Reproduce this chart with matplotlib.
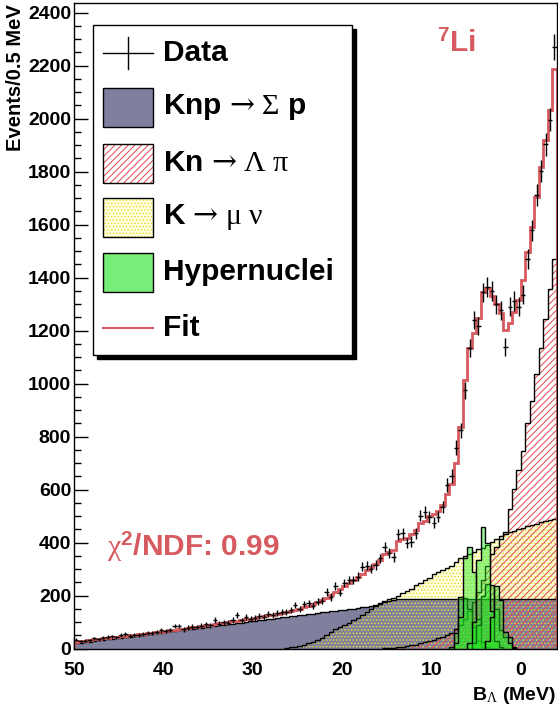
import numpy as np
import matplotlib
matplotlib.use('Agg')
import matplotlib.pyplot as plt
from matplotlib.patches import Rectangle
from matplotlib.lines import Line2D
from matplotlib.ticker import MultipleLocator

plt.rcParams['font.family'] = ['Liberation Sans', 'DejaVu Sans']
plt.rcParams['mathtext.fontset'] = 'custom'
plt.rcParams['mathtext.rm'] = 'Liberation Serif'
plt.rcParams['mathtext.it'] = 'Liberation Serif:italic'
plt.rcParams['mathtext.bf'] = 'Liberation Sans:bold'
plt.rcParams['mathtext.sf'] = 'DejaVu Serif'
plt.rcParams['hatch.linewidth'] = 0.7

# ---------------- data ----------------
B_MAX, B_MIN, BIN = 50.0, -4.0, 0.5

data = [33, 27, 29, 31, 38, 34, 41, 43, 46, 42,
        50, 54, 49, 51, 52, 55, 60, 57, 61, 68,
        66, 70, 85, 85, 72, 78, 82, 81, 86, 92,
        88, 107, 94, 99, 98, 108, 128, 106, 120, 112,
        116, 122, 120, 130, 127, 133, 139, 137, 146, 164,
        150, 168, 170, 162, 177, 180, 214, 195, 237, 211,
        248, 258, 258, 271, 309, 313, 302, 315, 340, 384,
        359, 346, 432, 435, 399, 403, 435, 502, 514, 497,
        475, 498, 535, 617, 652, 758, 824, 975, 1133, 1240,
        1218, 1345, 1365, 1350, 1300, 1277, 1139, 1290, 1312, 1290,
        1336, 1470, 1579, 1711, 1803, 1903, 1997, 2271]

fit = [26, 28, 30, 32, 34, 36, 38, 40, 42, 44,
       46, 48, 50, 52, 54, 56, 58, 60, 62, 64,
       67, 69, 71, 73, 75, 78, 80, 82, 85, 87,
       90, 92, 95, 98, 100, 103, 105, 108, 110, 113,
       116, 119, 122, 125, 128, 131, 135, 139, 143, 147,
       151, 156, 161, 168, 176, 184, 192, 201, 212, 224,
       236, 247, 258, 270, 283, 295, 306, 318, 335, 355,
       365, 373, 405, 412, 418, 432, 448, 472, 482, 500,
       508, 520, 540, 585, 620, 700, 837, 1013, 1133, 1190,
       1246, 1346, 1360, 1332, 1300, 1265, 1202, 1228, 1270, 1315,
       1390, 1495, 1592, 1704, 1818, 1919, 2032, 2187]

knp = [20, 22, 24, 26, 28, 31, 33, 35, 37, 39,
       41, 43, 45, 48, 50, 52, 54, 56, 58, 60,
       62, 65, 67, 69, 71, 73, 75, 77, 79, 81,
       84, 86, 88, 90, 92, 94, 96, 98, 101, 103,
       105, 107, 109, 111, 113, 115, 118, 120, 122, 124,
       126, 128, 130, 132, 134, 137, 139, 141, 143, 145,
       147, 149, 151, 154, 156, 158, 160, 163, 168, 174,
       179, 183, 186, 187, 188, 188, 188, 188, 188, 188,
       188, 188, 188, 188, 188, 188, 188, 188, 188, 188,
       188, 188, 188, 188, 188, 188, 188, 188, 188, 188,
       188, 188, 188, 188, 188, 188, 188, 188]

kmunu_start = 26.5
kmunu = [2, 4, 7, 10, 15, 20, 25, 31, 40, 50,
         61, 72, 80, 88, 97, 106, 116, 126, 136, 149,
         162, 170, 178, 185, 189, 198, 208, 217, 226, 238,
         249, 258, 268, 280, 290, 297, 305, 313, 326, 340,
         350, 358, 366, 374, 381, 392, 403, 414, 426, 432,
         438, 444, 450, 456, 461, 466, 471, 476, 481, 486, 490]

knlp_start = 15.5
knlp = [1, 2, 3, 5, 7, 9, 12, 15, 19, 23,
        28, 33, 38, 45, 52, 60, 72, 88, 110, 140,
        175, 215, 260, 310, 355, 385, 415, 440, 528, 603,
        672, 747, 850, 935, 1037, 1136, 1245, 1358, 1472]

hyp_starts = [8.0, 7.5, 5.5, 6.0, 4.0]
hyp = [[7, 57, 195, 190, 150, 80, 30, 5],
       [20, 120, 340, 384, 290, 110, 25, 5],
       [20, 90, 200, 245, 240, 150, 70, 45, 45, 7],
       [20, 100, 334, 460, 400, 140, 30, 5],
       [30, 120, 236, 183, 63, 20, 3]]

labels = [r'Data', r'Knp $\mathsf{→}\mathrm{\ Σ}$ p',
          r'Kn $\mathsf{→}\mathrm{\ Λ\ π}$',
          r'K $\mathsf{→}\mathrm{\ μ\ ν}$', 'Hypernuclei', 'Fit']

# ---------------- styling ----------------
RED = '#d65a5f'
GRAY = '#80809e'
PALE_Y = '#ffffe0'
DOT_Y = '#e6dc3c'
HATCH_R = '#e0484f'
GREEN_FC = (0.13, 0.93, 0.13, 0.45)

W, H = 558, 713
fig = plt.figure(figsize=(W / 100, H / 100), dpi=100)
L, R, T, Bt = 74, 556.7, 2.7, 648.5
ax = fig.add_axes([L / W, 1 - Bt / H, (R - L) / W, (Bt - T) / H])


def edges_from(start, n):
    return start - BIN * np.arange(n + 1)


edges = edges_from(B_MAX, len(data))
centers = edges[:-1] - BIN / 2
e_kmunu = edges_from(kmunu_start, len(kmunu))
e_knlp = edges_from(knlp_start, len(knlp))

ax.stairs(kmunu, e_kmunu, fill=True, facecolor=PALE_Y, edgecolor='none', zorder=1)
ax.stairs(knp, edges, fill=True, facecolor=GRAY, edgecolor='none', zorder=1.5)
ax.stairs(kmunu, e_kmunu, fill=True, facecolor='none', edgecolor=DOT_Y,
          hatch='.....', linewidth=0, zorder=2)
ax.stairs(knlp, e_knlp, fill=True, facecolor='none', edgecolor=HATCH_R,
          hatch='/////', linewidth=0, zorder=2.2)
ax.stairs(knp, edges, color='black', linewidth=1, baseline=None, zorder=2.5)
ax.stairs(kmunu, e_kmunu, color='black', linewidth=1, baseline=None, zorder=2.5)
ax.stairs(knlp, e_knlp, color='black', linewidth=1, baseline=None, zorder=2.5)

for st, g in zip(hyp_starts, hyp):
    ax.stairs(g, edges_from(st, len(g)), fill=True, facecolor=GREEN_FC,
              edgecolor='black', linewidth=1, zorder=3)

ax.stairs(fit, edges, color=RED, linewidth=2, zorder=4)
ax.errorbar(centers, data, yerr=np.sqrt(data), xerr=BIN / 2, fmt='none',
            ecolor='black', elinewidth=1, capsize=0, zorder=5)

ax.set_xlim(B_MAX, B_MIN)
ax.set_ylim(0, 2438)
ax.set_yticks(np.arange(0, 2401, 200))
ax.yaxis.set_minor_locator(MultipleLocator(50))
ax.set_xticks([50, 40, 30, 20, 10, 0])
ax.tick_params(axis='y', which='major', direction='in', length=10, width=1,
               labelsize=14, pad=2, right=False)
ax.tick_params(axis='y', which='minor', direction='in', length=5, width=1, right=False)
ax.tick_params(axis='x', which='major', direction='in', length=8, width=1,
               labelsize=14, pad=10, top=False)
for lbl in ax.get_xticklabels() + ax.get_yticklabels():
    lbl.set_fontweight('bold')
ax.set_axisbelow(True)
for s in ax.spines.values():
    s.set_linewidth(1)
    s.set_zorder(6)


def fx(px):
    return px / W


def fy(py):
    return 1 - py / H


# legend (ROOT style with shadow)
lx0, ly0, lx1, ly1 = 93, 25, 352, 355
fig.add_artist(Rectangle((fx(lx0 + 4), fy(ly1 + 4)), (lx1 - lx0) / W, (ly1 - ly0) / H,
                         transform=fig.transFigure, facecolor='black', edgecolor='black', zorder=10))
fig.add_artist(Rectangle((fx(lx0), fy(ly1)), (lx1 - lx0) / W, (ly1 - ly0) / H,
                         transform=fig.transFigure, facecolor='white', edgecolor='black',
                         linewidth=1, zorder=11))
rows = [53, 107, 163, 217, 272, 328]
bx0, bx1, bh = 103, 153, 39
# Data
fig.add_artist(Line2D([fx(bx0), fx(bx1)], [fy(rows[0]), fy(rows[0])], transform=fig.transFigure,
                      color='black', lw=1, zorder=12))
fig.add_artist(Line2D([fx(128), fx(128)], [fy(rows[0] - 16), fy(rows[0] + 16)],
                      transform=fig.transFigure, color='black', lw=1, zorder=12))


def box(row, **kw):
    return Rectangle((fx(bx0), fy(row + bh / 2)), (bx1 - bx0) / W, bh / H,
                     transform=fig.transFigure, zorder=12, **kw)


fig.add_artist(box(rows[1], facecolor=GRAY, edgecolor='black', linewidth=1))
fig.add_artist(box(rows[2], facecolor='white', edgecolor=HATCH_R, hatch='/////', linewidth=0))
fig.add_artist(box(rows[2], facecolor='none', edgecolor='black', linewidth=1))
fig.add_artist(box(rows[3], facecolor=PALE_Y, edgecolor=DOT_Y, hatch='.....', linewidth=0))
fig.add_artist(box(rows[3], facecolor='none', edgecolor='black', linewidth=1))
fig.add_artist(box(rows[4], facecolor='#77ee77', edgecolor='black', linewidth=1))
fig.add_artist(Line2D([fx(bx0), fx(bx1)], [fy(rows[5]), fy(rows[5])], transform=fig.transFigure,
                      color=RED, lw=1.5, zorder=12))
for r, lab in zip(rows, labels):
    fig.text(fx(163), fy(r), lab, fontsize=21.5, fontweight='bold', ha='left',
             va='center', zorder=13)

fig.text(fx(107), fy(556), r'$\mathrm{\chi}^{\mathbf{2}}$/NDF: 0.99', color=RED,
         fontsize=21.5, fontweight='bold', ha='left', va='baseline')
fig.text(fx(437), fy(52), r'$^{\mathbf{7}}$Li', color=RED, fontsize=21.5,
         fontweight='bold', ha='left', va='baseline')
fig.text(fx(16), fy(4), 'Events/0.5 MeV', rotation=90, ha='center', va='top',
         fontsize=14.5, fontweight='bold')
fig.text(fx(556), fy(700), r'B$_{\mathrm{Λ}}$ (MeV)', ha='right', va='baseline',
         fontsize=14, fontweight='bold')

fig.savefig('out.png', dpi=100)
